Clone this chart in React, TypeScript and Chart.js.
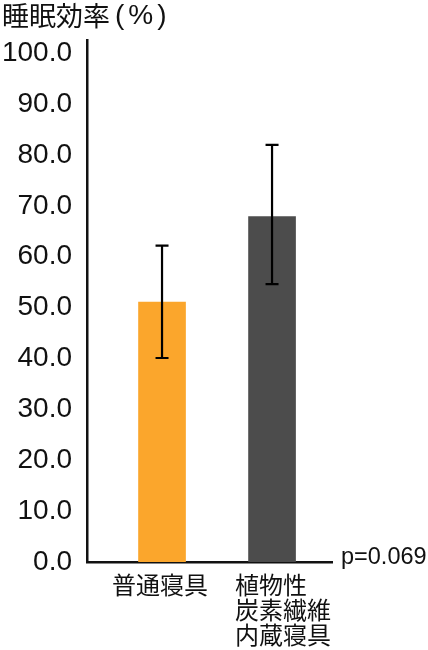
import React, { useEffect, useRef } from "react";
import { Chart, registerables } from "chart.js";

Chart.register(...registerables);

const categories: string[][] = [["普通寝具"], ["植物性", "炭素繊維", "内蔵寝具"]];
const positions = [1, 2];
const values = [51.1, 67.9];
const errLow = [40.1, 54.6];
const errHigh = [62.2, 82.0];
const barColors = ["#FBA62C", "#4C4C4C"];
const yTicks = [0, 10, 20, 30, 40, 50, 60, 70, 80, 90, 100];
const titleMain = "睡眠効率";
const titleUnit = "(%)";
const pText = "p=0.069";
const labelOffsets = [-50, -37];

const overlay = {
  id: "overlay",
  afterDatasetsDraw(chart: any) {
    const ctx = chart.ctx;
    const xs = chart.scales.x;
    const ys = chart.scales.y;
    ctx.save();
    ctx.strokeStyle = "#000";
    ctx.lineWidth = 2.2;
    positions.forEach((p, i) => {
      const x = xs.getPixelForValue(p);
      const y1 = ys.getPixelForValue(errLow[i]);
      const y2 = ys.getPixelForValue(errHigh[i]);
      ctx.beginPath();
      ctx.moveTo(x, y1);
      ctx.lineTo(x, y2);
      ctx.moveTo(x - 6.5, y1);
      ctx.lineTo(x + 6.5, y1);
      ctx.moveTo(x - 6.5, y2);
      ctx.lineTo(x + 6.5, y2);
      ctx.stroke();
    });
    ctx.restore();
  },
  afterDraw(chart: any) {
    const ctx = chart.ctx;
    const xs = chart.scales.x;
    const area = chart.chartArea;
    ctx.save();
    ctx.fillStyle = "#111";
    ctx.textBaseline = "middle";
    ctx.textAlign = "left";
    ctx.font = "27px 'Noto Sans CJK JP'";
    ctx.fillText(titleMain, 2, 16);
    ctx.font = "28px 'Liberation Sans'";
    (ctx as any).letterSpacing = "4px";
    ctx.fillText(titleUnit, 115, 16);
    (ctx as any).letterSpacing = "0px";
    ctx.font = "23.5px 'Liberation Sans'";
    ctx.fillText(pText, area.right + 9, area.bottom - 4);
    ctx.font = "24px 'Noto Sans CJK JP'";
    categories.forEach((lines, i) => {
      const x = xs.getPixelForValue(positions[i]) + labelOffsets[i];
      lines.forEach((line, j) => {
        ctx.fillText(line, x, area.bottom + 23 + j * 25);
      });
    });
    ctx.restore();
  },
};

export default function App() {
  const ref = useRef<HTMLCanvasElement>(null);
  useEffect(() => {
    if (!ref.current) return;
    const chart = new Chart(ref.current, {
      type: "bar",
      data: {
        datasets: [
          {
            data: positions.map((p, i) => ({ x: p, y: values[i] })),
            backgroundColor: barColors,
            barThickness: 47,
            borderWidth: 0,
          },
        ],
      },
      options: {
        animation: false,
        responsive: false,
        layout: { padding: { top: 40, right: 96, left: 0, bottom: 0 } },
        plugins: { legend: { display: false }, tooltip: { enabled: false }, title: { display: false } },
        scales: {
          x: {
            type: "linear",
            offset: false,
            min: 0.318,
            max: 2.545,
            grid: { display: false, drawTicks: false },
            ticks: { display: false },
            border: { display: true, color: "#111", width: 2.5 },
            afterFit: (s: any) => {
              s.height = 88;
            },
          },
          y: {
            min: 0,
            max: 102.6,
            grid: { display: false, drawTicks: false },
            border: { display: true, color: "#111", width: 2.5 },
            afterBuildTicks: (s: any) => {
              s.ticks = yTicks.map((v) => ({ value: v }));
            },
            ticks: {
              color: "#111",
              font: { family: "'Liberation Sans'", size: 28 },
              padding: 15,
              callback: (v: any) => Number(v).toFixed(1),
            },
            afterFit: (s: any) => {
              s.width = 87;
            },
          },
        },
      },
      plugins: [overlay],
    });
    return () => chart.destroy();
  }, []);
  return (
    <div style={{ position: "absolute", left: 0, top: 0, width: 428, height: 650, background: "#fff" }}>
      <canvas ref={ref} width={428} height={650} style={{ display: "block" }} />
    </div>
  );
}
